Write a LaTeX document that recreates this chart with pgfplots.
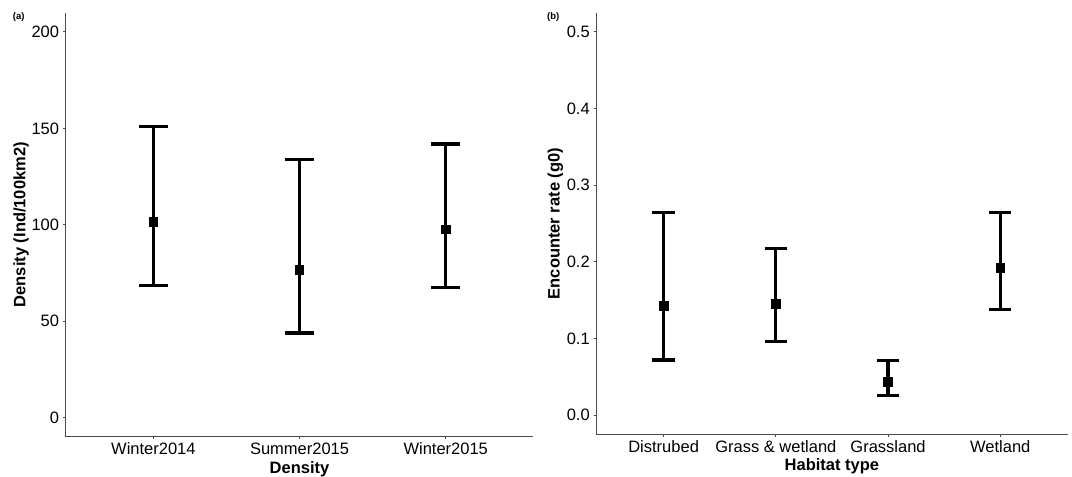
\documentclass[border=0pt]{standalone}
\usepackage{fontspec}
\setmainfont{Liberation Sans}
\usepackage{pgfplots}
\pgfplotsset{compat=1.18}

\pgfplotsset{
  ggpanel/.style={
    scale only axis,
    axis x line=bottom,
    axis y line=left,
    axis line style={-, line width=1pt, black!70},
    tick style={line width=1pt, black!70},
    major tick length=2.7pt,
    tick align=outside,
    /pgf/number format/assume math mode=true,
    ticklabel style={font=\fontsize{16.5}{19}\selectfont, text=black},
    xticklabel style={anchor=north, inner sep=0pt, yshift=-3.3pt},
    yticklabel style={anchor=east, inner sep=0pt, xshift=-3.7pt},
    every axis x label/.style={at={(axis description cs:0.5,0)}, anchor=base, yshift=-36.6pt,
      font=\fontsize{16.5}{19}\selectfont\bfseries, text=black},
    xmin=0.4,
    clip=false,
  },
  ylab/.style={every axis y label/.style={at={(axis description cs:#1,0.5)}, rotate=90, anchor=center,
      font=\fontsize{16.5}{19}\selectfont\bfseries, text=black}},
  ggbar/.style={
    black, only marks, mark=square*, mark size=4.3pt,
    mark options={line width=0.8pt},
    error bars/.cd, y dir=both, y explicit,
    error bar style={line width=3.3pt, black},
    error mark options={rotate=90, line width=3.3pt, mark size=#1, black},
  },
}

\begin{document}
\begin{tikzpicture}[x=1pt,y=1pt]
\path[use as bounding box] (0,0) rectangle (1072,477);

% panel (a)
\begin{axis}[
  ggpanel,
  at={(65.7pt,40.3pt)}, anchor=south west,
  width=467.7pt, height=424pt,
  xmax=3.6, ymin=-10, ymax=210,
  xtick={1,2,3},
  xticklabels={Winter2014,Summer2015,Winter2015},
  ytick={0,50,100,150,200},
  xlabel={Density},
  ylabel={Density (Ind/100km2)},
  ylab=-0.0956,
]
\addplot+[ggbar=14.6pt] coordinates {
  (1,101.3) += (0,49.5) -= (0,32.9)
  (2,76.7)  += (0,57.1) -= (0,32.9)
  (3,97.5)  += (0,44.3) -= (0,30.2)
};
\end{axis}

% panel (b)
\begin{axis}[
  ggpanel,
  at={(596.3pt,42.7pt)}, anchor=south west,
  width=471.3pt, height=421.5pt,
  xmax=4.6, ymin=-0.025, ymax=0.525,
  xtick={1,2,3,4},
  xticklabels={Distrubed,Grass \& wetland,Grassland,Wetland},
  ytick={0,0.1,0.2,0.3,0.4,0.5},
  yticklabel style={/pgf/number format/.cd, fixed, fixed zerofill, precision=1},
  xlabel={Habitat type},
  ylabel={Encounter rate (g0)},
  ylab=-0.0866,
]
\addplot+[ggbar=11.2pt] coordinates {
  (1,0.1429) += (0,0.1211) -= (0,0.0711)
  (2,0.1455) += (0,0.0718) -= (0,0.0498)
  (3,0.0432) += (0,0.0278) -= (0,0.0172)
  (4,0.1922) += (0,0.0718) -= (0,0.0545)
};
\end{axis}

\node[anchor=base west, inner sep=0pt, font=\fontsize{9.5}{11}\selectfont\bfseries] at (12.7,457.2) {(a)};
\node[anchor=base west, inner sep=0pt, font=\fontsize{9.5}{11}\selectfont\bfseries] at (547,457.2) {(b)};
\end{tikzpicture}
\end{document}
